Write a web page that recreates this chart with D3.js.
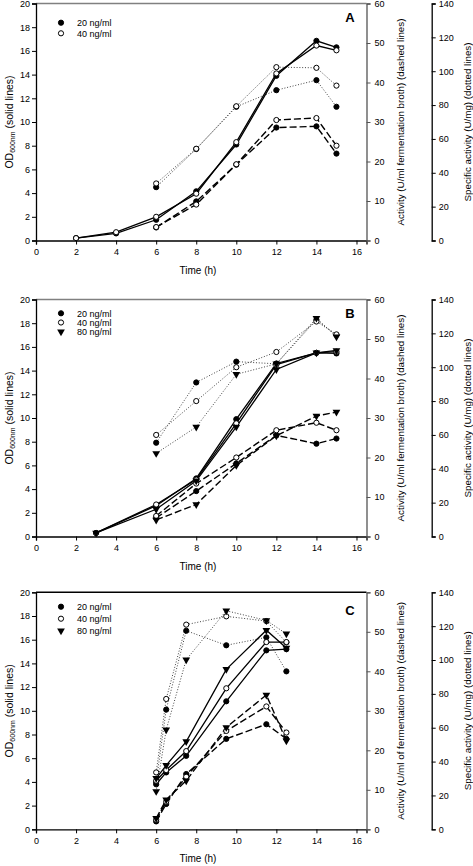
<!DOCTYPE html>
<html><head><meta charset="utf-8">
<script src="https://cdn.jsdelivr.net/npm/d3@7"></script>
<style>body{margin:0;background:#fff}svg{display:block}text{font-family:"Liberation Sans",Arial,sans-serif}</style>
</head><body>
<svg id="c" width="473" height="866"></svg>
<script>
// ---------- Data ----------
const xTicks = [0,2,4,6,8,10,12,14,16];
const odTicks = [0,2,4,6,8,10,12,14,16,18,20];
const actTicks = [0,10,20,30,40,50,60];
const specTicks = [0,20,40,60,80,100,120,140];
const seriesNames = ["20 ng/ml","40 ng/ml","80 ng/ml"];

// Panel A
const timeA = [2,4,6,8,10,12,14,15];
const odA20 = [0.2,0.6,1.75,4.15,8.1,13.9,16.85,16.3];
const odA40 = [0.2,0.7,2.0,3.95,8.3,14.1,16.45,16.05];
const actTimeA = [6,8,10,12,14,15];
const actA20 = [3.3,9.9,19.2,28.6,28.9,22.0];
const actA40 = [3.4,9.1,19.3,30.5,31.0,24.0];
const specA20 = [31.5,54,79,88.8,94.7,79];
const specA40 = [33.7,54.2,79.3,102.4,102,91.5];

// Panel B
const timeB = [3,6,8,10,12,14,15];
const odB20 = [0.3,2.6,4.9,9.9,14.6,15.5,15.45];
const odB40 = [0.3,2.7,4.8,9.55,14.5,15.5,15.6];
const odB80 = [0.3,2.3,4.7,9.25,14.1,15.5,15.7];
const actTimeB = [6,8,10,12,14,15];
const actB20 = [4.7,11.5,18.5,25.6,23.5,24.8];
const actB40 = [5.2,13.4,20.0,26.9,28.8,26.9];
const actB80 = [4.2,8.1,18.0,25.5,30.5,31.5];
const specB20 = [55.4,91,103.3,102,128,119];
const specB40 = [60,80,100,109,127,119.4];
const specB80 = [49.1,64.7,95.8,102,129,118];

// Panel C
const timeC = [6,6.5,7.5,9.5,11.5,12.5];
const odC20 = [3.8,4.8,6.2,10.8,15.1,15.2];
const odC40 = [4.1,5.0,6.6,11.9,15.8,15.8];
const odC80 = [4.3,5.4,7.4,13.5,16.8,15.3];
const actC20 = [2.0,6.4,14.0,22.9,26.6,22.9];
const actC40 = [2.4,7.0,13.3,24.9,31.1,24.5];
const actC80 = [2.8,7.5,12.3,25.8,34.0,22.4];
const specC20 = [28,70.7,117.3,108.7,113.4,93.3];
const specC40 = [33.6,77,120.9,125.8,123,110.4];
const specC80 = [22.4,58.8,100.2,129.1,123.4,115.5];

// ---------- Layout ----------
const panels = [
  {letter:"A", top:3.5, n:2, legTop:22.7, legStep:10.6, letterDy:18.2, topColor:"#808080",
   actLabel:"Activity (U/ml fermentation broth) (dashed lines)",
   od:{t:timeA, s:[odA20,odA40]}, act:{t:actTimeA, s:[actA20,actA40]}, spec:{t:actTimeA, s:[specA20,specA40]}},
  {letter:"B", top:299.5, n:3, legTop:313.3, legStep:9.2, letterDy:18.8, topColor:"#808080",
   actLabel:"Activity (U/ml fermentation broth) (dashed lines)",
   od:{t:timeB, s:[odB20,odB40,odB80]}, act:{t:actTimeB, s:[actB20,actB40,actB80]}, spec:{t:actTimeB, s:[specB20,specB40,specB80]}},
  {letter:"C", top:592.3, n:3, legTop:606.7, legStep:12, letterDy:22.4, topColor:"#000",
   actLabel:"Activity (U/ml of fermentation broth) (dashed lines)",
   od:{t:timeC, s:[odC20,odC40,odC80]}, act:{t:timeC, s:[actC20,actC40,actC80]}, spec:{t:timeC, s:[specC20,specC40,specC80]}}
];
const H = 237, X0 = 36, X1 = 366.5, X2 = 431.7;
const svg = d3.select("#c");
const x = d3.scaleLinear().domain([0,16.5]).range([X0,X1]);

function marker(g, kind, cx, cy){
  if(kind===2){
    g.append("path").attr("d", d3.symbol().type(d3.symbolTriangle).size(26)())
      .attr("transform",`translate(${cx},${cy}) rotate(180)`).attr("fill","#000");
  } else {
    g.append("circle").attr("cx",cx).attr("cy",cy).attr("r",2.6)
      .attr("fill", kind===0?"#000":"#fff").attr("stroke","#000").attr("stroke-width",1);
  }
}

panels.forEach(p=>{
  const bot = p.top + H;
  const yOD = d3.scaleLinear().domain([0,20]).range([bot,p.top]);
  const yAct = d3.scaleLinear().domain([0,60]).range([bot,p.top]);
  const ySpec = d3.scaleLinear().domain([0,140]).range([bot,p.top]);
  const g = svg.append("g");

  g.append("line").attr("x1",X0).attr("x2",X1).attr("y1",p.top).attr("y2",p.top)
    .attr("stroke",p.topColor).attr("stroke-width",1.5);

  const styleAxis = (sel, col)=>{
    sel.selectAll("path").attr("stroke",col).attr("stroke-width",1.3);
    sel.selectAll("line").attr("stroke",col).attr("stroke-width",1);
    sel.selectAll("text").attr("font-size","9px").attr("fill","#000");
  };
  const ax = g.append("g").attr("transform",`translate(0,${bot})`)
    .call(d3.axisBottom(x).tickValues(xTicks).tickSizeOuter(0).tickSize(4).tickPadding(4));
  styleAxis(ax,"#000");
  const ay = g.append("g").attr("transform",`translate(${X0},0)`)
    .call(d3.axisLeft(yOD).tickValues(odTicks).tickSizeOuter(0).tickSize(4).tickPadding(2));
  styleAxis(ay,"#000");
  const ar = g.append("g").attr("transform",`translate(${X1},0)`)
    .call(d3.axisRight(yAct).tickValues(actTicks).tickSizeOuter(0).tickSize(4).tickPadding(4));
  styleAxis(ar,"#555");
  const ar2 = g.append("g").attr("transform",`translate(${X2},0)`)
    .call(d3.axisRight(ySpec).tickValues(specTicks).tickSizeOuter(0).tickSize(4).tickPadding(3));
  styleAxis(ar2,"#000");

  g.append("text").attr("x",198).attr("y",bot+33).attr("text-anchor","middle")
    .attr("font-size","10px").text("Time (h)");
  const cy = p.top + H/2;
  const lt = g.append("text").attr("transform",`translate(12.5,${cy}) rotate(-90)`)
    .attr("text-anchor","middle").attr("font-size","10.5px");
  lt.append("tspan").text("OD");
  lt.append("tspan").attr("font-size","7px").attr("dy","2.5").text("600nm");
  lt.append("tspan").attr("dy","-2.5").text(" (solid lines)");
  g.append("text").attr("transform",`translate(403.5,${cy}) rotate(-90)`)
    .attr("text-anchor","middle").attr("font-size","9.8px").text(p.actLabel);
  g.append("text").attr("transform",`translate(471,${cy}) rotate(-90)`)
    .attr("text-anchor","middle").attr("font-size","9.8px").text("Specific activity (U/mg) (dotted lines)");
  g.append("text").attr("x",350).attr("y",p.top+p.letterDy).attr("text-anchor","middle")
    .attr("font-size","13px").attr("font-weight","bold").text(p.letter);

  const mk = (ts, ys, ysc) => d3.line().x((d,i)=>x(ts[i])).y(d=>ysc(d))(ys);
  p.spec.s.forEach(s=> g.append("path").attr("d",mk(p.spec.t,s,ySpec)).attr("fill","none")
    .attr("stroke","#444").attr("stroke-width",1).attr("stroke-dasharray","1,1.8"));
  p.act.s.forEach(s=> g.append("path").attr("d",mk(p.act.t,s,yAct)).attr("fill","none")
    .attr("stroke","#000").attr("stroke-width",1.4).attr("stroke-dasharray","7,3"));
  p.od.s.forEach(s=> g.append("path").attr("d",mk(p.od.t,s,yOD)).attr("fill","none")
    .attr("stroke","#000").attr("stroke-width",1.3));

  for(let k=0;k<p.n;k++){
    p.spec.s[k].forEach((v,i)=>marker(g,k,x(p.spec.t[i]),ySpec(v)));
    p.act.s[k].forEach((v,i)=>marker(g,k,x(p.act.t[i]),yAct(v)));
    p.od.s[k].forEach((v,i)=>marker(g,k,x(p.od.t[i]),yOD(v)));
  }

  for(let k=0;k<p.n;k++){
    const ly = p.legTop + k*p.legStep;
    marker(g,k,61,ly);
    g.append("text").attr("x",77).attr("y",ly+3.2).attr("font-size","9px").text(seriesNames[k]);
  }
});
</script>
</body></html>
